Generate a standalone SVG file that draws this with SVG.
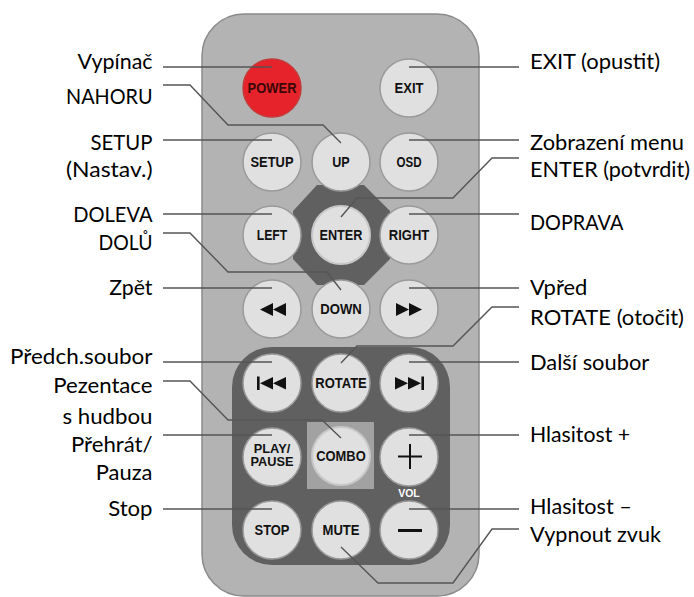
<svg xmlns="http://www.w3.org/2000/svg" width="694" height="597" viewBox="0 0 694 597">
<style>
.lbl{font-family:Lato,"Liberation Sans",sans-serif;font-size:21.5px;fill:#000}
.l{text-anchor:end}
.btn{fill:#e0e0e0;stroke:#9a9a9a;stroke-width:1.5}
.bt{font-family:"Liberation Sans",Arial,sans-serif;font-weight:bold;font-size:14px;fill:#111;text-anchor:middle}
.sym{fill:#111}
.ln{fill:none;stroke:#555;stroke-width:1.4;stroke-linejoin:miter}
</style>
<g id="remote">
<rect x="202" y="14" width="277" height="582" rx="42" fill="#b3b3b3" stroke="#8a8a8a" stroke-width="1.5"/>
<polygon points="317,185 364,185 390,211 390,259 364,285 317,285 293,259 293,211" fill="#606060"/>
<rect x="232" y="347" width="218" height="218" rx="40" fill="#606060"/>
<rect x="307" y="422" width="67" height="67" fill="#a2a2a2"/>
<text x="409" y="497" font-family="Liberation Sans,Arial,sans-serif" font-weight="bold" font-size="10.5" fill="#fff" text-anchor="middle">VOL</text>
</g>
<g id="btn-power"><circle cx="272" cy="88" r="29" fill="#e6232a" stroke="#c43a3a" stroke-width="1.5"/><text class="bt" x="272" y="93.3" textLength="49" lengthAdjust="spacingAndGlyphs" style="fill:#3a0808">POWER</text></g>
<g id="btn-exit"><circle class="btn" cx="409" cy="88" r="29"/><text class="bt" x="409" y="93.3" textLength="29" lengthAdjust="spacingAndGlyphs">EXIT</text></g>
<g id="btn-setup"><circle class="btn" cx="272" cy="162" r="29"/><text class="bt" x="272" y="167.3" textLength="43" lengthAdjust="spacingAndGlyphs">SETUP</text></g>
<g id="btn-up"><circle class="btn" cx="341" cy="162" r="29"/><text class="bt" x="341" y="167.3" textLength="17.5" lengthAdjust="spacingAndGlyphs">UP</text></g>
<g id="btn-osd"><circle class="btn" cx="409" cy="162" r="29"/><text class="bt" x="409" y="167.3" textLength="25" lengthAdjust="spacingAndGlyphs">OSD</text></g>
<g id="btn-left"><circle class="btn" cx="272" cy="235" r="29"/><text class="bt" x="272" y="240.3" textLength="30.5" lengthAdjust="spacingAndGlyphs">LEFT</text></g>
<g id="btn-enter"><circle class="btn" cx="341" cy="235" r="29" style="stroke:#c8c8c8;stroke-width:2"/><text class="bt" x="341" y="240.3" textLength="43" lengthAdjust="spacingAndGlyphs">ENTER</text></g>
<g id="btn-right"><circle class="btn" cx="409" cy="235" r="29"/><text class="bt" x="409" y="240.3" textLength="40.5" lengthAdjust="spacingAndGlyphs">RIGHT</text></g>
<g id="btn-rew"><circle class="btn" cx="272" cy="309" r="29"/><polygon class="sym" points="260,309.5 273,303 273,316"/><polygon class="sym" points="273,309.5 286,303 286,316"/></g>
<g id="btn-down"><circle class="btn" cx="341" cy="309" r="29"/><text class="bt" x="341" y="314.3" textLength="41.5" lengthAdjust="spacingAndGlyphs">DOWN</text></g>
<g id="btn-ff"><circle class="btn" cx="409" cy="309" r="29"/><polygon class="sym" points="396,303 409,309.5 396,316"/><polygon class="sym" points="409,303 422,309.5 409,316"/></g>
<g id="btn-prev"><circle class="btn" cx="272" cy="383" r="29"/><rect class="sym" x="257" y="376.5" width="2.6" height="13.5"/><polygon class="sym" points="260,383.3 273,377 273,389.6"/><polygon class="sym" points="273,383.3 286,377 286,389.6"/></g>
<g id="btn-rotate"><circle class="btn" cx="341" cy="383" r="29"/><text class="bt" x="341" y="388" textLength="51.5" lengthAdjust="spacingAndGlyphs">ROTATE</text></g>
<g id="btn-next"><circle class="btn" cx="409" cy="383" r="29"/><polygon class="sym" points="395,377 408,383.3 395,389.6"/><polygon class="sym" points="408,377 421,383.3 408,389.6"/><rect class="sym" x="421.4" y="376.5" width="2.6" height="13.5"/></g>
<g id="btn-play"><circle class="btn" cx="272" cy="457" r="29"/><text class="bt" x="272" y="453" textLength="36.5" lengthAdjust="spacingAndGlyphs" style="font-size:12.5px">PLAY/</text><text class="bt" x="272" y="466" textLength="43" lengthAdjust="spacingAndGlyphs" style="font-size:12.5px">PAUSE</text></g>
<g id="btn-combo"><circle class="btn" cx="341" cy="456" r="29" style="stroke:#c8c8c8;stroke-width:2"/><text class="bt" x="341" y="461.3" textLength="49.5" lengthAdjust="spacingAndGlyphs">COMBO</text></g>
<g id="btn-volup"><circle class="btn" cx="409" cy="457" r="29"/><path d="M398,456.5 H422 M410,444 V469" stroke="#111" stroke-width="2" fill="none"/></g>
<g id="btn-stop"><circle class="btn" cx="272" cy="530" r="29"/><text class="bt" x="272" y="535.3" textLength="35" lengthAdjust="spacingAndGlyphs">STOP</text></g>
<g id="btn-mute"><circle class="btn" cx="341" cy="530" r="29"/><text class="bt" x="341" y="535.3" textLength="37" lengthAdjust="spacingAndGlyphs">MUTE</text></g>
<g id="btn-voldown"><circle class="btn" cx="409" cy="530" r="29"/><path d="M398,530.5 H422" stroke="#111" stroke-width="3" fill="none"/></g>
<g id="connectors">
<polyline class="ln" points="163,67 272,67"/>
<polyline class="ln" points="163,85 190,85 228,125 323,125 341,143"/>
<polyline class="ln" points="163,140 272,140"/>
<polyline class="ln" points="163,214 272,214"/>
<polyline class="ln" points="163,233 190,233 228,272 327,272 341,290"/>
<polyline class="ln" points="163,288 272,288"/>
<polyline class="ln" points="163,362 272,362"/>
<polyline class="ln" points="163,381 190,381 228,420 322,420 341,438"/>
<polyline class="ln" points="163,435 272,435"/>
<polyline class="ln" points="163,509 272,509"/>
<polyline class="ln" points="519,67 409,67"/>
<polyline class="ln" points="519,140 409,140"/>
<polyline class="ln" points="519,158 492,158 453,198 357,198 341,217"/>
<polyline class="ln" points="519,214 409,214"/>
<polyline class="ln" points="519,288 409,288"/>
<polyline class="ln" points="519,307 492,307 453,346 357,346 341,363"/>
<polyline class="ln" points="519,362 409,362"/>
<polyline class="ln" points="519,435 409,435"/>
<polyline class="ln" points="519,509 409,509"/>
<polyline class="ln" points="519,529 492,529 453,583 378,583 341,547"/>
</g>
<g id="labels-left">
<text class="lbl l" x="152.5" y="68.5" textLength="75" lengthAdjust="spacingAndGlyphs">Vypínač</text>
<text class="lbl l" x="152.5" y="103.5" textLength="86.5" lengthAdjust="spacingAndGlyphs">NAHORU</text>
<text class="lbl l" x="152.5" y="150" textLength="62" lengthAdjust="spacingAndGlyphs">SETUP</text>
<text class="lbl l" x="152.5" y="177" textLength="86.5" lengthAdjust="spacingAndGlyphs">(Nastav.)</text>
<text class="lbl l" x="152.5" y="222" textLength="79.3" lengthAdjust="spacingAndGlyphs">DOLEVA</text>
<text class="lbl l" x="152.5" y="250" textLength="54" lengthAdjust="spacingAndGlyphs">DOLŮ</text>
<text class="lbl l" x="152.5" y="295" textLength="43.3" lengthAdjust="spacingAndGlyphs">Zpět</text>
<text class="lbl l" x="152.5" y="364" textLength="142.5" lengthAdjust="spacingAndGlyphs">Předch.soubor</text>
<text class="lbl l" x="152.5" y="393" textLength="99.3" lengthAdjust="spacingAndGlyphs">Pezentace</text>
<text class="lbl l" x="152.5" y="423.5" textLength="90" lengthAdjust="spacingAndGlyphs">s hudbou</text>
<text class="lbl l" x="152.5" y="452" textLength="81.5" lengthAdjust="spacingAndGlyphs">Přehrát/</text>
<text class="lbl l" x="152.5" y="480" textLength="56.7" lengthAdjust="spacingAndGlyphs">Pauza</text>
<text class="lbl l" x="152.5" y="516" textLength="44.3" lengthAdjust="spacingAndGlyphs">Stop</text>
</g>
<g id="labels-right">
<text class="lbl" x="530" y="68.5" textLength="130" lengthAdjust="spacingAndGlyphs">EXIT (opustit)</text>
<text class="lbl" x="530" y="150" textLength="154" lengthAdjust="spacingAndGlyphs">Zobrazení menu</text>
<text class="lbl" x="530" y="177" textLength="160" lengthAdjust="spacingAndGlyphs">ENTER (potvrdit)</text>
<text class="lbl" x="530" y="230" textLength="93.3" lengthAdjust="spacingAndGlyphs">DOPRAVA</text>
<text class="lbl" x="530" y="295" textLength="57.3" lengthAdjust="spacingAndGlyphs">Vpřed</text>
<text class="lbl" x="530" y="325" textLength="154" lengthAdjust="spacingAndGlyphs">ROTATE (otočit)</text>
<text class="lbl" x="530" y="369.5" textLength="119.3" lengthAdjust="spacingAndGlyphs">Další soubor</text>
<text class="lbl" x="530" y="442" textLength="100" lengthAdjust="spacingAndGlyphs">Hlasitost +</text>
<text class="lbl" x="530" y="513.5" textLength="101.7" lengthAdjust="spacingAndGlyphs">Hlasitost –</text>
<text class="lbl" x="530" y="542" textLength="131" lengthAdjust="spacingAndGlyphs">Vypnout zvuk</text>
</g>
</svg>
